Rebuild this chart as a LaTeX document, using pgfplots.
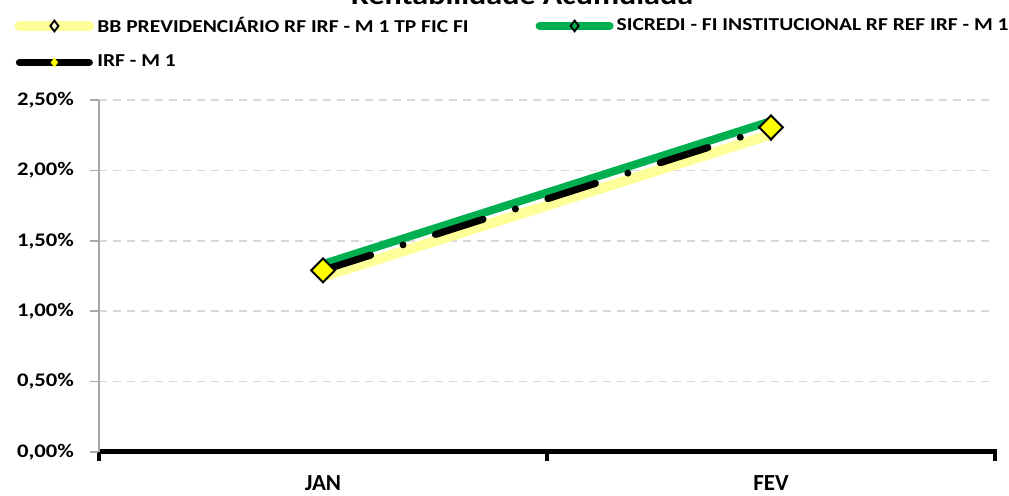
\documentclass[border=0pt]{standalone}
\usepackage{fontspec}
\setmainfont{Carlito}
\newfontfamily\sfont{Carlito}[FakeStretch=1.18]
\usepackage{pgfplots}
\pgfplotsset{compat=1.18}
\definecolor{bbyellow}{HTML}{FFFF99}
\definecolor{sgreen}{HTML}{00B050}
\definecolor{gridgray}{HTML}{D9D9D9}
\definecolor{axgray}{HTML}{A6A6A6}
\definecolor{mkyellow}{HTML}{FFFF00}
\begin{document}
\begin{tikzpicture}
\path[use as bounding box] (-49.5pt,-22pt) rectangle (455pt,226pt);
\begin{axis}[
  at={(0pt,0pt)}, anchor=south west,
  scale only axis, width=448pt, height=176pt,
  xmin=-0.5, xmax=1.5, ymin=0, ymax=2.5,
  axis x line*=bottom, axis y line*=left,
  x axis line style={line width=2.5pt, black, shorten <=-0.3pt, shorten >=-1pt},
  y axis line style={line width=0.75pt, axgray},
  xtick={-0.5,0.5,1.5}, xticklabels={},
  x tick style={line width=2pt, black},
  major x tick style={line width=2pt, black},
  tick align=outside,
  major tick length=4.5pt,
  extra x ticks={0,1}, extra x tick labels={JAN,FEV},
  extra x tick style={major tick length=0pt, grid=none,
     xticklabel style={font=\bfseries\fontsize{11.5}{13}\selectfont, yshift=-8.5pt}},
  ytick={0,0.5,1,1.5,2,2.5},
  yticklabels={{0,00\%},{0,50\%},{1,00\%},{1,50\%},{2,00\%},{2,50\%}},
  yticklabel style={font=\sfont\bfseries\fontsize{9.6}{11}\selectfont, xshift=-4.5pt},
  y tick style={axgray, line width=0.75pt},
  ymajorgrids, grid style={gridgray, line width=0.8pt, dash pattern=on 4pt off 3pt},
  clip=false,
  legend columns=2,
  legend cell align=left,
  legend style={draw=none, fill=none, at={(-0.0949,1.246)}, anchor=north west,
     inner sep=0pt, row sep=7pt,
     font=\sfont\bfseries\fontsize{9.1}{11}\selectfont,
     nodes={inner sep=1.5pt},
     /tikz/every even column/.append style={column sep=32pt}},
  legend image code/.code={%
     \draw[#1, mark repeat=2, mark phase=2] plot coordinates {(0pt,0pt) (17.5pt,0pt) (35pt,0pt)};},
]
% BB PREVIDENCIARIO
\addplot[bbyellow, line width=5pt, line cap=round, mark=diamond*, mark size=2.7pt,
  mark options={fill=bbyellow!40!white, draw=black, line width=0.9pt, solid}]
  coordinates {(0,1.245) (1,2.255)};
\addlegendentry{BB PREVIDENCIÁRIO RF IRF - M 1 TP FIC FI}
% SICREDI
\addplot[sgreen, line width=4pt, line cap=round, mark=diamond*, mark size=2.7pt,
  mark options={fill=sgreen, draw=black, line width=0.9pt, solid}]
  coordinates {(0,1.335) (1,2.35)};
\addlegendentry{SICREDI - FI INSTITUCIONAL RF REF IRF - M 1}
% IRF - M 1
\addplot[forget plot, black, line width=3.5pt, line cap=round, dash pattern=on 25pt off 17pt on 0pt off 17pt,
  mark=square*, mark size=4.2pt,
  mark options={rotate=45, fill=mkyellow, draw=black, line width=1pt, solid}]
  coordinates {(0,1.29) (1,2.305)};
\addlegendimage{black, line width=3.5pt, line cap=round, mark=diamond*, mark size=2.2pt,
  mark options={fill=mkyellow, draw=mkyellow, line width=0.3pt, solid}}
\addlegendentry{IRF - M 1}
\end{axis}
\node[overlay, anchor=base, font=\sfont\bfseries\fontsize{13.6}{16}\selectfont] at (211.5pt,223.5pt) {Rentabilidade Acumulada};
\end{tikzpicture}
\end{document}
